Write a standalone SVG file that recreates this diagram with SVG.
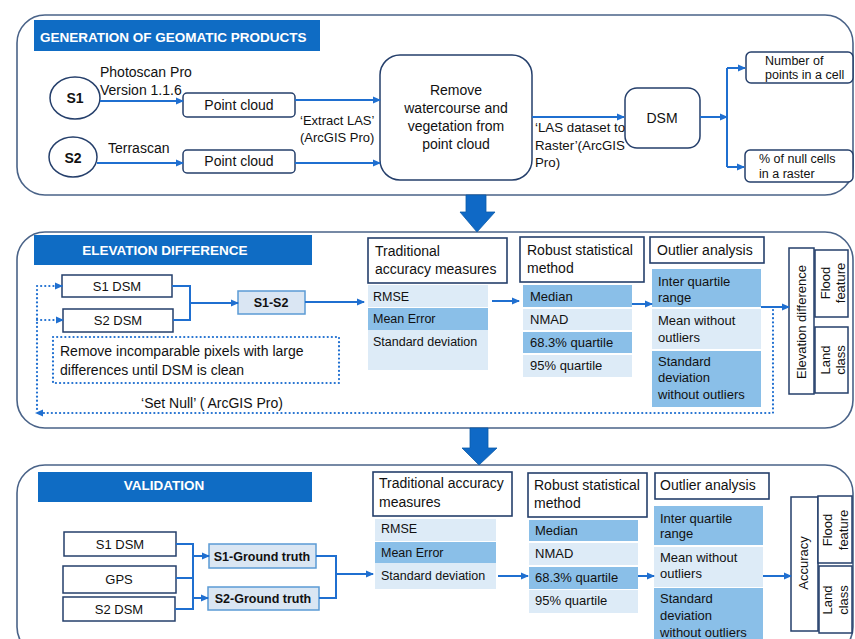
<svg xmlns="http://www.w3.org/2000/svg" width="855" height="639" viewBox="0 0 855 639">
<style>
text{font-family:"Liberation Sans",Arial,sans-serif;fill:#111;}
.sec{fill:#fff;stroke:#4a6388;stroke-width:1.6;}
.bar{fill:#0f6cc4;}
.bart{fill:#fff;font-weight:bold;font-size:13.5px;}
.box{fill:#fff;stroke:#253f6b;stroke-width:1.5;}
.hdr{fill:#fff;stroke:#253f6b;stroke-width:1.6;}
.diff{fill:#dae6f3;stroke:#5b9bd5;stroke-width:1.5;}
.lt{fill:#ddebf7;}
.md{fill:#8abfe8;}
.t14{font-size:14px;}
.t135{font-size:13.3px;}
.t13{font-size:13px;}
.t12{font-size:12.5px;}
.b{font-weight:bold;}
.c{text-anchor:middle;}
.ln{fill:none;stroke:#1f6fd0;stroke-width:2;}
.ar{fill:none;stroke:#1f6fd0;stroke-width:2;marker-end:url(#ah);}
.dot{fill:none;stroke:#1f6fd0;stroke-width:2.2;stroke-dasharray:0.1 4;stroke-linecap:round;}
.dar{fill:none;stroke:#1f6fd0;stroke-width:2.2;stroke-dasharray:0.1 4;stroke-linecap:round;marker-end:url(#ah);}
.big{fill:#0f69c6;stroke:#0b5aa8;stroke-width:0.8;}
</style>
<defs>
<marker id="ah" markerWidth="8" markerHeight="8" refX="7" refY="4" orient="auto" markerUnits="userSpaceOnUse">
<path d="M0,0.5 L8,4 L0,7.5 z" fill="#1f6fd0"/>
</marker>
</defs>

<!-- Sections -->
<g id="section-generation">
<rect class="sec" x="17" y="15" width="836" height="180" rx="28"/>
<rect class="bar" x="34" y="20" width="286" height="31"/>
<text class="bart" x="40" y="42">GENERATION OF GEOMATIC PRODUCTS</text>
</g>
<g id="section-elevation">
<rect class="sec" x="17" y="232" width="836" height="196" rx="28"/>
<rect class="bar" x="34" y="235" width="278" height="30"/>
<text class="bart c" x="165" y="255">ELEVATION DIFFERENCE</text>
</g>
<g id="section-validation">
<rect class="sec" x="17" y="465" width="836" height="190" rx="28"/>
<rect class="bar" x="38" y="472" width="274" height="30"/>
<text class="bart c" x="164" y="490">VALIDATION</text>
</g>

<!-- Big arrows -->
<g id="big-arrow-1"><polygon class="big" points="466,195 486,195 486,212 495,212 477,232 460,212 466,212"/></g>
<g id="big-arrow-2"><polygon class="big" points="470,428 488,428 488,448 497,448 479,465 462,448 470,448"/></g>

<!-- Top section nodes -->
<g id="s1"><ellipse class="box" cx="75" cy="98" rx="25" ry="21"/><text class="t14 b c" x="75" y="103">S1</text></g>
<g id="s2"><ellipse class="box" cx="73" cy="157" rx="24" ry="20"/><text class="t14 b c" x="73" y="163">S2</text></g>
<g id="pc1"><rect class="box" x="183" y="93" width="112" height="24" rx="4"/><text class="t14 c" x="239" y="110">Point cloud</text></g>
<g id="pc2"><rect class="box" x="183" y="150" width="112" height="23" rx="4"/><text class="t14 c" x="239" y="166">Point cloud</text></g>
<g id="remove"><rect class="box" x="380" y="55" width="152" height="125" rx="20"/>
<text class="t14 c" x="456" y="95">Remove</text>
<text class="t14 c" x="456" y="113">watercourse and</text>
<text class="t14 c" x="456" y="131">vegetation from</text>
<text class="t14 c" x="456" y="149">point cloud</text></g>
<g id="dsm"><rect class="box" x="625" y="88" width="75" height="60" rx="12"/><text class="t14 c" x="662" y="123">DSM</text></g>
<g id="npoints"><rect class="box" x="746" y="52" width="107" height="31" rx="5"/><text class="t12" x="765" y="65">Number of</text><text class="t12" x="765" y="79">points in a cell</text></g>
<g id="nullcells"><rect class="box" x="745" y="150" width="108" height="32" rx="5"/><text class="t12" x="759" y="163">% of null cells</text><text class="t12" x="759" y="178">in a raster</text></g>

<g id="top-labels">
<text class="t14" x="100" y="77">Photoscan Pro</text>
<text class="t14" x="100" y="95">Version 1.1.6</text>
<text class="t14" x="108" y="153">Terrascan</text>
<text class="t13" x="300" y="125">‘Extract LAS’</text>
<text class="t13" x="300" y="142">(ArcGIS Pro)</text>
<text class="t135" x="535" y="132">‘LAS dataset to</text>
<text class="t135" x="535" y="150">Raster’(ArcGIS</text>
<text class="t135" x="535" y="167">Pro)</text>
</g>

<!-- Middle section nodes -->
<g id="e-s1dsm"><rect class="box" x="62" y="275" width="110" height="22"/><text class="t13 c" x="117" y="291">S1 DSM</text></g>
<g id="e-s2dsm"><rect class="box" x="63" y="309" width="110" height="23"/><text class="t13 c" x="118" y="325">S2 DSM</text></g>
<g id="e-s1s2"><rect class="diff" x="238" y="291" width="67" height="23"/><text class="t12 b c" x="271" y="307">S1-S2</text></g>
<g id="e-remove"><rect fill="none" class="dot" x="53" y="337" width="286" height="46"/>
<text class="t14" x="60" y="356">Remove incomparable pixels with large</text>
<text class="t14" x="60" y="375">differences until DSM is clean</text></g>
<g id="e-setnull"><text class="t14 c" x="212" y="408">‘Set Null’ ( ArcGIS Pro)</text></g>

<g id="e-trad">
<rect class="hdr" x="368" y="238" width="139" height="45"/>
<text class="t14" x="375" y="256">Traditional</text>
<text class="t14" x="375" y="274">accuracy measures</text>
<rect class="lt" x="368" y="285" width="120" height="22"/>
<rect class="md" x="368" y="308" width="120" height="22"/>
<rect class="lt" x="368" y="330" width="120" height="40"/>
<text class="t12" x="373" y="301">RMSE</text>
<text class="t12" x="373" y="323">Mean Error</text>
<text class="t12" x="373" y="346">Standard deviation</text>
</g>
<g id="e-robust">
<rect class="hdr" x="520" y="237" width="124" height="45"/>
<text class="t14" x="527" y="255">Robust statistical</text>
<text class="t14" x="527" y="273">method</text>
<rect class="md" x="523" y="285" width="109" height="22"/>
<rect class="lt" x="523" y="309" width="109" height="21"/>
<rect class="md" x="523" y="332" width="109" height="21"/>
<rect class="lt" x="523" y="355" width="109" height="22"/>
<text class="t13" x="530" y="301">Median</text>
<text class="t13" x="530" y="324">NMAD</text>
<text class="t13" x="530" y="347">68.3% quartile</text>
<text class="t13" x="530" y="370">95% quartile</text>
</g>
<g id="e-outlier">
<rect class="hdr" x="650" y="237" width="114" height="26"/>
<text class="t14" x="657" y="255">Outlier analysis</text>
<rect class="md" x="652" y="269" width="109" height="38"/>
<rect class="lt" x="652" y="309" width="109" height="40"/>
<rect class="md" x="652" y="351" width="109" height="56"/>
<text class="t13" x="658" y="286">Inter quartile</text>
<text class="t13" x="658" y="302">range</text>
<text class="t13" x="658" y="325">Mean without</text>
<text class="t13" x="658" y="342">outliers</text>
<text class="t13" x="658" y="366">Standard</text>
<text class="t13" x="658" y="382">deviation</text>
<text class="t13" x="658" y="399">without outliers</text>
</g>
<g id="e-result">
<rect class="box" x="789" y="248" width="25" height="146"/>
<text class="t13 c" transform="translate(806,322) rotate(-90)">Elevation difference</text>
<rect class="box" x="815" y="250" width="33" height="67"/>
<text class="t13 c" transform="translate(830,283) rotate(-90)">Flood</text>
<text class="t13 c" transform="translate(845,283) rotate(-90)">feature</text>
<rect class="box" x="815" y="327" width="33" height="66"/>
<text class="t13 c" transform="translate(830,360) rotate(-90)">Land</text>
<text class="t13 c" transform="translate(845,360) rotate(-90)">class</text>
</g>

<!-- Bottom section nodes -->
<g id="v-s1dsm"><rect class="box" x="64" y="532" width="112" height="24"/><text class="t13 c" x="120" y="549">S1 DSM</text></g>
<g id="v-gps"><rect class="box" x="63" y="566" width="113" height="27"/><text class="t13 c" x="119" y="584">GPS</text></g>
<g id="v-s2dsm"><rect class="box" x="63" y="597" width="112" height="24"/><text class="t13 c" x="119" y="614">S2 DSM</text></g>
<g id="v-s1gt"><rect class="diff" x="209" y="544" width="107" height="24"/><text class="t12 b c" x="262" y="561">S1-Ground truth</text></g>
<g id="v-s2gt"><rect class="diff" x="208" y="587" width="111" height="23"/><text class="t12 b c" x="263" y="603">S2-Ground truth</text></g>

<g id="v-trad">
<rect class="hdr" x="373" y="472" width="139" height="44"/>
<text class="t14" x="379" y="488">Traditional accuracy</text>
<text class="t14" x="379" y="507">measures</text>
<rect class="lt" x="375" y="519" width="121" height="22"/>
<rect class="md" x="375" y="542" width="121" height="21"/>
<rect class="lt" x="375" y="563" width="121" height="26"/>
<text class="t12" x="381" y="533">RMSE</text>
<text class="t12" x="381" y="557">Mean Error</text>
<text class="t12" x="381" y="580">Standard deviation</text>
</g>
<g id="v-robust">
<rect class="hdr" x="528" y="473" width="119" height="44"/>
<text class="t14" x="534" y="490">Robust statistical</text>
<text class="t14" x="534" y="508">method</text>
<rect class="md" x="529" y="520" width="109" height="21"/>
<rect class="lt" x="529" y="543" width="109" height="22"/>
<rect class="md" x="529" y="567" width="109" height="22"/>
<rect class="lt" x="529" y="590" width="109" height="23"/>
<text class="t13" x="535" y="535">Median</text>
<text class="t13" x="535" y="558">NMAD</text>
<text class="t13" x="535" y="582">68.3% quartile</text>
<text class="t13" x="535" y="605">95% quartile</text>
</g>
<g id="v-outlier">
<rect class="hdr" x="655" y="473" width="114" height="26"/>
<text class="t14" x="660" y="490">Outlier analysis</text>
<rect class="md" x="654" y="506" width="109" height="39"/>
<rect class="lt" x="654" y="547" width="109" height="40"/>
<rect class="md" x="654" y="588" width="109" height="55"/>
<text class="t13" x="660" y="523">Inter quartile</text>
<text class="t13" x="660" y="538">range</text>
<text class="t13" x="660" y="562">Mean without</text>
<text class="t13" x="660" y="578">outliers</text>
<text class="t13" x="660" y="603">Standard</text>
<text class="t13" x="660" y="620">deviation</text>
<text class="t13" x="660" y="637">without outliers</text>
</g>
<g id="v-result">
<rect class="box" x="791" y="497" width="27" height="134"/>
<text class="t13 c" transform="translate(808,563) rotate(-90)">Accuracy</text>
<rect class="box" x="818" y="496" width="34" height="67"/>
<text class="t13 c" transform="translate(832,530) rotate(-90)">Flood</text>
<text class="t13 c" transform="translate(848,530) rotate(-90)">feature</text>
<rect class="box" x="819" y="566" width="33" height="67"/>
<text class="t13 c" transform="translate(832,600) rotate(-90)">Land</text>
<text class="t13 c" transform="translate(848,600) rotate(-90)">class</text>
</g>

<!-- Connectors -->
<g id="connectors">
<line class="ar" x1="100" y1="101" x2="183" y2="101"/>
<line class="ar" x1="97" y1="163" x2="183" y2="163"/>
<line class="ar" x1="295" y1="100" x2="380" y2="100"/>
<line class="ar" x1="295" y1="163" x2="380" y2="163"/>
<line class="ar" x1="532" y1="117" x2="624" y2="117"/>
<line class="ar" x1="700" y1="117" x2="727" y2="117"/>
<polyline class="ln" points="727,68 727,167"/>
<line class="ar" x1="727" y1="68" x2="745" y2="68"/>
<line class="ar" x1="727" y1="167" x2="744" y2="167"/>

<polyline class="ln" points="172,286 190,286 190,320 173,320"/>
<line class="ar" x1="190" y1="303" x2="238" y2="303"/>
<line class="ar" x1="305" y1="302" x2="364" y2="302"/>
<line class="ar" x1="492" y1="301" x2="519" y2="301"/>
<line class="ar" x1="632" y1="304" x2="652" y2="304"/>
<line class="ar" x1="761" y1="307" x2="789" y2="307"/>
<polyline class="dot" points="773,310 773,413 44,413"/>
<line class="dar" x1="44" y1="413" x2="36" y2="413"/>
<polyline class="dot" points="37,409 37,286"/>
<line class="dar" x1="37" y1="286" x2="62" y2="286"/>
<line class="dar" x1="37" y1="320" x2="63" y2="320"/>

<polyline class="ln" points="176,544 193,544 193,609 175,609"/>
<line class="ln" x1="176" y1="578" x2="193" y2="578"/>
<line class="ar" x1="193" y1="556" x2="209" y2="556"/>
<line class="ar" x1="193" y1="598" x2="208" y2="598"/>
<polyline class="ln" points="316,556 336,556 336,598 319,598"/>
<line class="ar" x1="336" y1="574" x2="373" y2="574"/>
<line class="ar" x1="498" y1="576" x2="528" y2="576"/>
<line class="ar" x1="638" y1="576" x2="654" y2="576"/>
<line class="ar" x1="763" y1="576" x2="791" y2="576"/>
</g>
</svg>
